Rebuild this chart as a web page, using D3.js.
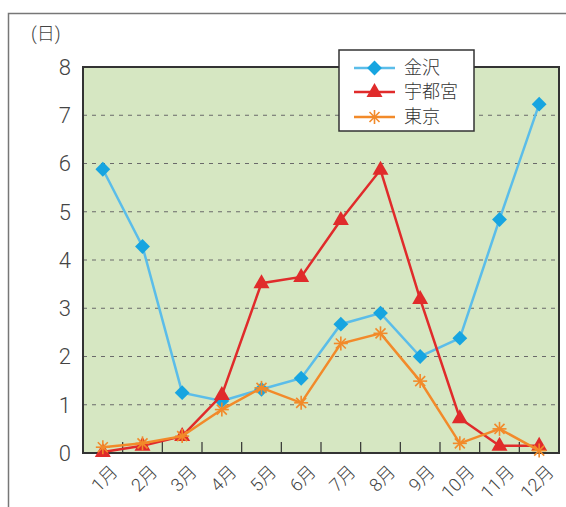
<!DOCTYPE html>
<html><head><meta charset="utf-8">
<script src="https://cdn.jsdelivr.net/npm/d3@7"></script>
<style>body{margin:0;background:#fff;font-family:"Roboto","Noto Sans CJK JP",sans-serif;}</style>
</head><body><svg id="c" width="566" height="507"></svg>
<script>
const months = ["1月","2月","3月","4月","5月","6月","7月","8月","9月","10月","11月","12月"];
const kanazawa = [5.88,4.28,1.25,1.08,1.32,1.55,2.67,2.9,2.0,2.38,4.84,7.23];
const utsunomiya = [0.02,0.15,0.35,1.2,3.52,3.65,4.83,5.87,3.19,0.72,0.15,0.15];
const tokyo = [0.12,0.2,0.35,0.9,1.35,1.04,2.27,2.48,1.49,0.2,0.5,0.05];
const yTicks = [0,1,2,3,4,5,6,7,8];
const seriesNames = ["金沢","宇都宮","東京"];

const svg = d3.select("#c");
const L=83,T=67,R=559,B=453;
const x = d3.scalePoint().domain(months).range([L,R]).padding(0.5);
const y = d3.scaleLinear().domain([0,8]).range([B,T]);
const step = x.step();

// outer frame
svg.append("path").attr("d","M8.5,507 V13.5 H566").attr("fill","none").attr("stroke","#777").attr("stroke-width",1.5);

svg.append("rect").attr("x",L).attr("y",T).attr("width",R-L).attr("height",B-T).attr("fill","#d6e7c2");

// grid
svg.append("g").selectAll("line").data(yTicks.filter(d=>d>0&&d<8)).join("line")
  .attr("x1",L).attr("x2",R).attr("y1",d=>y(d)).attr("y2",d=>y(d))
  .attr("stroke","#6a6a6a").attr("stroke-width",1).attr("stroke-dasharray","4,5");

// x ticks inward
svg.append("g").selectAll("line").data(months.slice(1)).join("line")
  .attr("x1",d=>x(d)-step/2).attr("x2",d=>x(d)-step/2).attr("y1",B).attr("y2",B-11)
  .attr("stroke","#333").attr("stroke-width",1.2);

svg.append("rect").attr("x",L).attr("y",T).attr("width",R-L).attr("height",B-T).attr("fill","none").attr("stroke","#333").attr("stroke-width",2);

// y labels
svg.append("g").selectAll("text").data(yTicks).join("text")
  .attr("x",71).attr("y",d=>y(d)).attr("dy","0.36em").attr("text-anchor","end")
  .attr("font-size",22).attr("font-weight",300).attr("fill","#444").text(d=>d);

svg.append("text").attr("x",31).attr("y",40).attr("font-size",18).attr("font-weight",300).attr("fill","#444").text("(日)");

// x labels rotated
svg.append("g").selectAll("text").data(months).join("text")
  .attr("transform",d=>`translate(${x(d)+7},${B+11}) rotate(-45)`)
  .attr("text-anchor","end").attr("dy","0.7em").attr("font-size",18).attr("font-weight",300).attr("fill","#444").text(d=>d);

const line = d3.line().x((d,i)=>x(months[i])).y(d=>y(d));
const colors = {k:"#5bbde9",kM:"#17a5e0",u:"#e02b2b",o:"#f28a2a"};

function drawSeries(data,lc,mark){
  svg.append("path").datum(data).attr("d",line).attr("fill","none").attr("stroke",lc).attr("stroke-width",2.5);
  const g = svg.append("g");
  data.forEach((v,i)=>mark(g,x(months[i]),y(v)));
}
const diamond=(g,cx,cy)=>g.append("path").attr("d",d3.symbol(d3.symbolSquare,110)()).attr("transform",`translate(${cx},${cy}) rotate(45)`).attr("fill",colors.kM);
const tri=(g,cx,cy)=>g.append("path").attr("d","M0,-9 L8,5 L-8,5 Z").attr("transform",`translate(${cx},${cy})`).attr("fill",colors.u);
const star=(g,cx,cy)=>{const s=7;[[0,-s,0,s],[-s,0,s,0],[-5,-5,5,5],[-5,5,5,-5]].forEach(a=>g.append("line").attr("x1",cx+a[0]).attr("y1",cy+a[1]).attr("x2",cx+a[2]).attr("y2",cy+a[3]).attr("stroke",colors.o).attr("stroke-width",1.6));};

drawSeries(kanazawa,colors.k,diamond);
drawSeries(utsunomiya,colors.u,tri);
drawSeries(tokyo,colors.o,star);

// legend
const lg = svg.append("g");
lg.append("rect").attr("x",339).attr("y",50).attr("width",135).attr("height",81).attr("fill","#fff").attr("stroke","#333").attr("stroke-width",1.5);
const rowsY=[68,92,117];
const lc=[colors.k,colors.u,colors.o];
const mk=[diamond,tri,star];
seriesNames.forEach((n,i)=>{
  lg.append("line").attr("x1",354).attr("x2",395).attr("y1",rowsY[i]).attr("y2",rowsY[i]).attr("stroke",lc[i]).attr("stroke-width",2.5);
  mk[i](lg,374.5,rowsY[i]);
  lg.append("text").attr("x",404).attr("y",rowsY[i]).attr("dy","0.36em").attr("font-size",18).attr("font-weight",300).attr("fill","#333").text(n);
});
</script></body></html>
